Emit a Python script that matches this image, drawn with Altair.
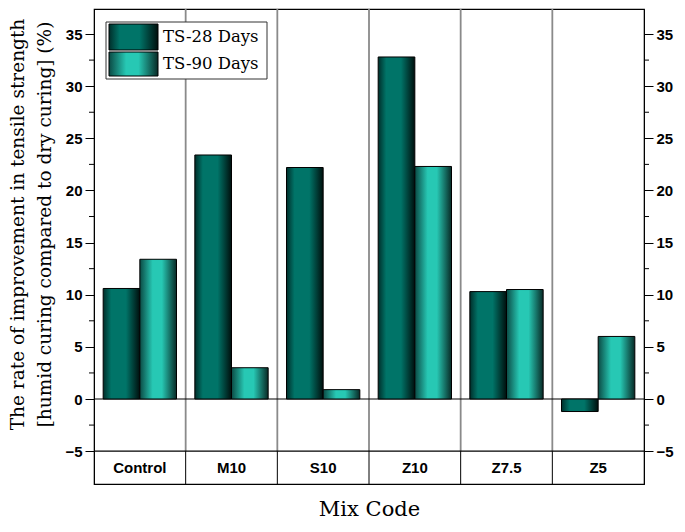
import altair as alt
import pandas as pd

categories = ["Control", "M10", "S10", "Z10", "Z7.5", "Z5"]
series = ["TS-28 Days", "TS-90 Days"]
ts28 = [10.6, 23.4, 22.2, 32.8, 10.3, -1.2]
ts90 = [13.4, 3.0, 0.9, 22.3, 10.5, 6.0]
major_ticks = [-5, 0, 5, 10, 15, 20, 25, 30, 35]
minor_ticks = [-2.5, 2.5, 7.5, 12.5, 17.5, 22.5, 27.5, 32.5]

YMIN, YMAX = -8.15, 37.4
W, H = 550, 475
SERIF = "DejaVu Serif"

rows = []
for c, a, b in zip(categories, ts28, ts90):
    rows.append({"cat": c, "s": series[0], "v": a})
    rows.append({"cat": c, "s": series[1], "v": b})
df = pd.DataFrame(rows)
cat_df = pd.DataFrame({"cat": categories})
bound_df = pd.DataFrame({"cat": categories[1:]})
minor_df = pd.DataFrame({"v": minor_ticks})
one = pd.DataFrame({"a": [0]})

grad_dark = alt.Gradient(
    gradient="linear", x1=0, x2=1, y1=0, y2=0,
    stops=[
        alt.GradientStop(offset=0, color="#002e2a"),
        alt.GradientStop(offset=0.22, color="#007468"),
        alt.GradientStop(offset=0.62, color="#007468"),
        alt.GradientStop(offset=1, color="#000f0d"),
    ],
)
grad_light = alt.Gradient(
    gradient="linear", x1=0, x2=1, y1=0, y2=0,
    stops=[
        alt.GradientStop(offset=0, color="#0b4a44"),
        alt.GradientStop(offset=0.35, color="#27c8b4"),
        alt.GradientStop(offset=0.6, color="#27c8b4"),
        alt.GradientStop(offset=1, color="#082a26"),
    ],
)

xscale = alt.Scale(domain=categories, paddingInner=0, paddingOuter=0)
yscale = alt.Scale(domain=[YMIN, YMAX], nice=False, zero=False)
xoff = alt.XOffset("s:N", scale=alt.Scale(domain=series, paddingOuter=0.25, paddingInner=0))

x_axis = alt.Axis(labels=False, ticks=False, domain=False, title="Mix Code",
                  titleFont=SERIF, titleFontSize=21, titleFontWeight="normal",
                  titleColor="black", titlePadding=14)

left_axis = alt.Axis(values=major_ticks, tickSize=9, tickColor="black", domainColor="black",
                     labelFont="Liberation Sans", labelFontWeight="bold", labelFontSize=15,
                     labelColor="black", labelPadding=3, grid=False,
                     title=["The rate of improvement in tensile strength",
                            "[humid curing compared to dry curing] (%)"],
                     titleFont=SERIF, titleFontSize=18.5, titleFontWeight="normal",
                     titleColor="black", titleLineHeight=27, titleBaseline="top",
                     titleAlign="center",
                     titleX=-86, titleY=215, titleAngle=-90)

gray_lines = alt.Chart(bound_df).mark_rule(color="#8a8a8a", strokeWidth=1.8).encode(
    x=alt.X("cat:N", scale=xscale, bandPosition=0, axis=x_axis),
    y=alt.Y(datum=YMAX, scale=yscale, axis=left_axis),
    y2=alt.datum(-5),
)
black_lines = alt.Chart(bound_df).mark_rule(color="black", strokeWidth=1).encode(
    x=alt.X("cat:N", scale=xscale, bandPosition=0),
    y=alt.Y(datum=-5, scale=yscale),
    y2=alt.datum(YMIN),
)
zero_line = alt.Chart(one).mark_rule(color="black", strokeWidth=1.2).encode(
    y=alt.Y(datum=0, scale=yscale), x=alt.value(0), x2=alt.value(W))
m5_line = alt.Chart(one).mark_rule(color="black", strokeWidth=1.2).encode(
    y=alt.Y(datum=-5, scale=yscale), x=alt.value(0), x2=alt.value(W))

bars28 = alt.Chart(df).transform_filter(alt.datum.s == series[0]).mark_bar(
    color=grad_dark, stroke="black", strokeWidth=1
).encode(x=alt.X("cat:N", scale=xscale), xOffset=xoff, y=alt.Y("v:Q", scale=yscale))

bars90 = alt.Chart(df).transform_filter(alt.datum.s == series[1]).mark_bar(
    color=grad_light, stroke="black", strokeWidth=1
).encode(x=alt.X("cat:N", scale=xscale), xOffset=xoff, y=alt.Y("v:Q", scale=yscale))

labels = alt.Chart(cat_df).mark_text(
    font="Liberation Sans", fontWeight="bold", fontSize=15, color="black", baseline="middle"
).encode(x=alt.X("cat:N", scale=xscale),
         y=alt.Y(datum=-6.6, scale=yscale), text="cat:N")

minor_left = alt.Chart(minor_df).mark_rule(color="black", strokeWidth=1).encode(
    y=alt.Y("v:Q", scale=yscale), x=alt.value(-5), x2=alt.value(0))

# legend
leg_box = alt.Chart(one).mark_rect(fill="white", stroke="#333333", strokeWidth=1).encode(
    x=alt.value(12), x2=alt.value(173), y=alt.value(13), y2=alt.value(70))
leg_sw1 = alt.Chart(one).mark_rect(color=grad_dark, stroke="black", strokeWidth=1).encode(
    x=alt.value(15), x2=alt.value(64), y=alt.value(15), y2=alt.value(41))
leg_sw2 = alt.Chart(one).mark_rect(color=grad_light, stroke="black", strokeWidth=1).encode(
    x=alt.value(15), x2=alt.value(64), y=alt.value(43), y2=alt.value(67))
leg_t1 = alt.Chart(one).mark_text(text=series[0], font=SERIF, fontSize=16.5,
                                  align="left", baseline="middle", color="black").encode(
    x=alt.value(69), y=alt.value(28))
leg_t2 = alt.Chart(one).mark_text(text=series[1], font=SERIF, fontSize=16.5,
                                  align="left", baseline="middle", color="black").encode(
    x=alt.value(69), y=alt.value(55))

main = alt.layer(gray_lines, black_lines, zero_line, m5_line, bars28, bars90, labels,
                 minor_left, leg_box, leg_sw1, leg_sw2, leg_t1, leg_t2)

right_axis = alt.Axis(orient="right", values=major_ticks, tickSize=9, tickColor="black",
                      domainColor="black", labelFont="Liberation Sans", labelFontWeight="bold",
                      labelFontSize=15, labelColor="black", labelPadding=3, grid=False, title=None)
minor_right = alt.Chart(minor_df).mark_rule(color="black", strokeWidth=1).encode(
    y=alt.Y("v:Q", scale=yscale, axis=right_axis), x=alt.value(W), x2=alt.value(W + 5))

chart = alt.layer(main, minor_right).resolve_scale(y="independent").properties(
    width=W, height=H, autosize="none",
    padding={"left": 86, "top": 1, "right": 33, "bottom": 40},
).configure_view(stroke="black", strokeWidth=1.2)

chart.save("out.html", embed_options={"renderer": "svg", "actions": False})
